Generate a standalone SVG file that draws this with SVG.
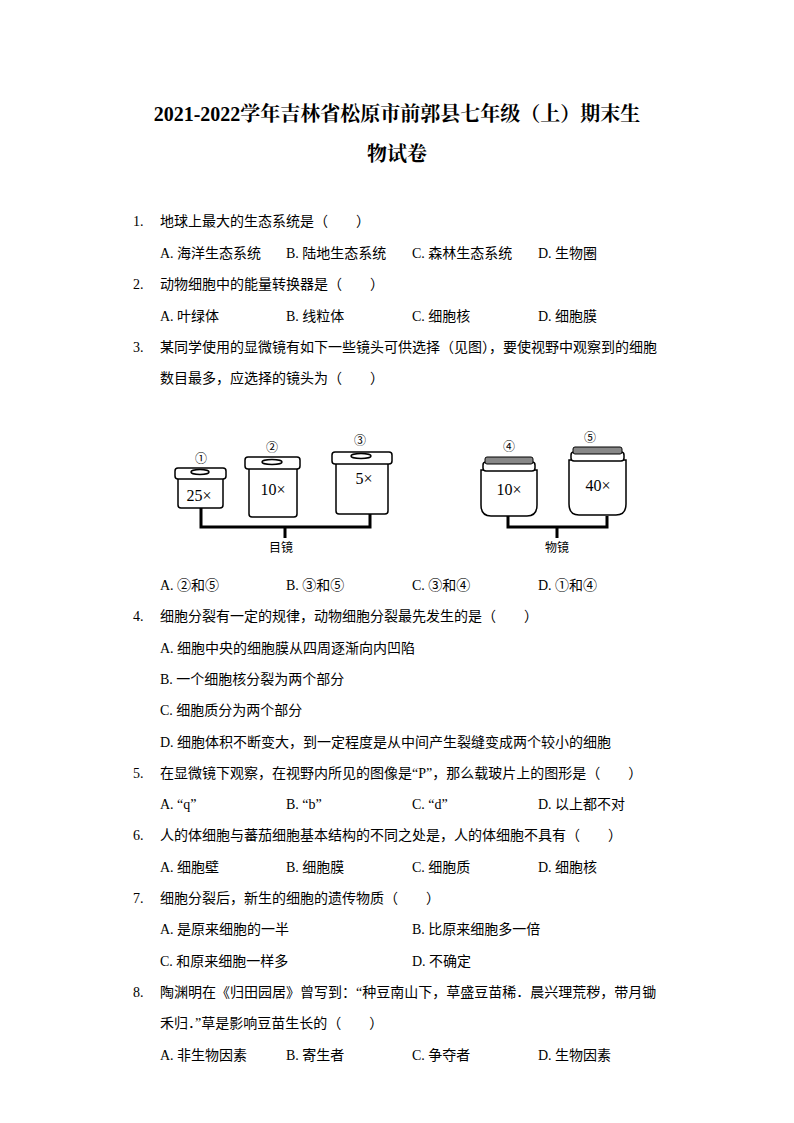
<svg xmlns="http://www.w3.org/2000/svg" width="794" height="1123" viewBox="0 0 794 1123">
<style>
.t{font-family:"Liberation Serif","Noto Sans CJK SC",serif;font-size:14px;fill:#000}
.h{font-family:"Liberation Serif","Noto Serif CJK SC","Noto Sans CJK SC",serif;font-size:20px;font-weight:bold;text-anchor:middle}
.s{font-family:"Liberation Sans","Noto Sans CJK SC",sans-serif;font-size:12px;text-anchor:middle}
.l{fill:#fff;stroke:#000;stroke-width:1.5}
.m{font-family:"Liberation Serif",serif;font-size:16px;text-anchor:middle}
.b{fill:none;stroke:#000;stroke-width:3}
</style>
<rect width="794" height="1123" fill="#fff"/>
<text class="h" x="397" y="121">2021-2022学年吉林省松原市前郭县七年级（上）期末生</text>
<text class="h" x="397" y="161">物试卷</text>
<g class="t">
<text x="133" y="226">1.</text><text x="160" y="226">地球上最大的生态系统是（　　）</text>
<text x="160" y="258">A. 海洋生态系统</text><text x="286" y="258">B. 陆地生态系统</text><text x="412" y="258">C. 森林生态系统</text><text x="538" y="258">D. 生物圈</text>
<text x="133" y="289">2.</text><text x="160" y="289">动物细胞中的能量转换器是（　　）</text>
<text x="160" y="321">A. 叶绿体</text><text x="286" y="321">B. 线粒体</text><text x="412" y="321">C. 细胞核</text><text x="538" y="321">D. 细胞膜</text>
<text x="133" y="352">3.</text><text x="160" y="352">某同学使用的显微镜有如下一些镜头可供选择（见图），要使视野中观察到的细胞</text>
<text x="160" y="383">数目最多，应选择的镜头为（　　）</text>
<text x="160" y="590">A. ②和⑤</text><text x="286" y="590">B. ③和⑤</text><text x="412" y="590">C. ③和④</text><text x="538" y="590">D. ①和④</text>
<text x="133" y="621">4.</text><text x="160" y="621">细胞分裂有一定的规律，动物细胞分裂最先发生的是（　　）</text>
<text x="160" y="653">A. 细胞中央的细胞膜从四周逐渐向内凹陷</text>
<text x="160" y="684">B. 一个细胞核分裂为两个部分</text>
<text x="160" y="715">C. 细胞质分为两个部分</text>
<text x="160" y="747">D. 细胞体积不断变大，到一定程度是从中间产生裂缝变成两个较小的细胞</text>
<text x="133" y="778">5.</text><text x="160" y="778">在显微镜下观察，在视野内所见的图像是“P”，那么载玻片上的图形是（　　）</text>
<text x="160" y="809">A. “q”</text><text x="286" y="809">B. “b”</text><text x="412" y="809">C. “d”</text><text x="538" y="809">D. 以上都不对</text>
<text x="133" y="840">6.</text><text x="160" y="840">人的体细胞与蕃茄细胞基本结构的不同之处是，人的体细胞不具有（　　）</text>
<text x="160" y="872">A. 细胞壁</text><text x="286" y="872">B. 细胞膜</text><text x="412" y="872">C. 细胞质</text><text x="538" y="872">D. 细胞核</text>
<text x="133" y="903">7.</text><text x="160" y="903">细胞分裂后，新生的细胞的遗传物质（　　）</text>
<text x="160" y="934">A. 是原来细胞的一半</text><text x="412" y="934">B. 比原来细胞多一倍</text>
<text x="160" y="966">C. 和原来细胞一样多</text><text x="412" y="966">D. 不确定</text>
<text x="133" y="997">8.</text><text x="160" y="997">陶渊明在《归田园居》曾写到：“种豆南山下，草盛豆苗稀．晨兴理荒秽，带月锄</text>
<text x="160" y="1028">禾归．”草是影响豆苗生长的（　　）</text>
<text x="160" y="1060">A. 非生物因素</text><text x="286" y="1060">B. 寄生者</text><text x="412" y="1060">C. 争夺者</text><text x="538" y="1060">D. 生物因素</text>
</g>
<g id="connectors">
<path class="b" d="M201 508V527H370V514M285 527V538"/>
<path class="b" d="M508 516V527H607V516M557 527V538"/>
</g>
<g id="lens1"><rect class="l" x="178" y="475" width="45" height="33" rx="3"/><rect class="l" x="175" y="468" width="51" height="11" rx="3"/><ellipse class="l" cx="200" cy="472" rx="9" ry="2.5"/><text class="m" x="199" y="501">25×</text><text class="s" x="201" y="463">①</text></g>
<g id="lens2"><rect class="l" x="249" y="465" width="48" height="52" rx="3"/><rect class="l" x="245" y="457" width="55" height="12" rx="3"/><ellipse class="l" cx="272" cy="462" rx="10" ry="2.5"/><text class="m" x="273" y="495">10×</text><text class="s" x="272" y="452">②</text></g>
<g id="lens3"><rect class="l" x="336" y="460" width="52" height="54" rx="3"/><rect class="l" x="332" y="452" width="60" height="12" rx="3"/><ellipse class="l" cx="361" cy="456" rx="10" ry="2.5"/><text class="m" x="364" y="484">5×</text><text class="s" x="360" y="445">③</text></g>
<g id="lens4"><path class="l" d="M481 470H537V505Q537 516 527 516H491Q481 516 481 505Z"/><rect class="l" x="483" y="462" width="52" height="9" rx="3"/><rect x="485" y="457" width="48" height="7" rx="2" fill="#888" stroke="#000"/><text class="m" x="509" y="495">10×</text><text class="s" x="509" y="451">④</text></g>
<g id="lens5"><path class="l" d="M569 460H626V504Q626 515 616 515H579Q569 515 569 504Z"/><rect class="l" x="571" y="452" width="53" height="9" rx="3"/><rect x="573" y="447" width="49" height="7" rx="2" fill="#888" stroke="#000"/><text class="m" x="598" y="491">40×</text><text class="s" x="590" y="442">⑤</text></g>
<text class="s" x="281" y="552">目镜</text>
<text class="s" x="557" y="552">物镜</text>
</svg>
